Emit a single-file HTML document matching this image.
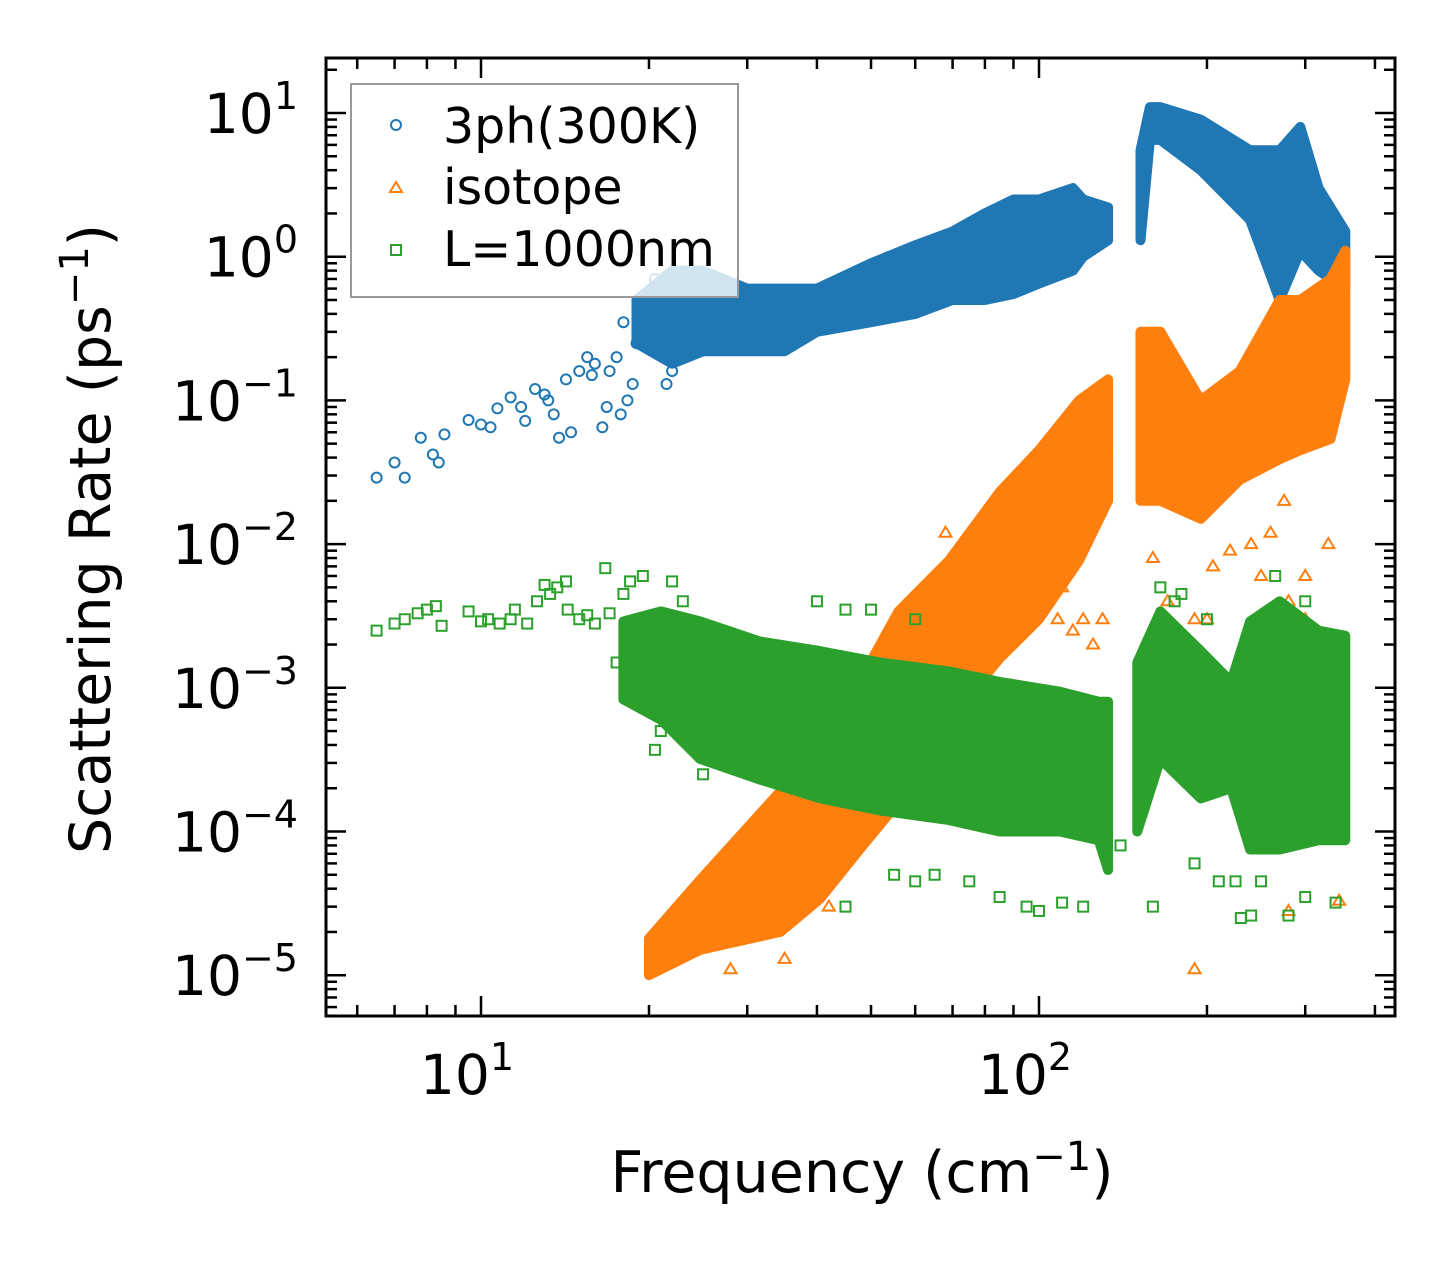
<!DOCTYPE html>
<html><head><meta charset="utf-8"><style>
html,body{margin:0;padding:0;background:#fff}
svg{display:block;font-family:"DejaVu Sans","Liberation Sans",sans-serif}
</style></head><body>
<svg id="chart" width="1455" height="1265" viewBox="0 0 1455 1265" xmlns="http://www.w3.org/2000/svg">
<rect width="1455" height="1265" fill="#fff"/>
<g id="marks"></g>
<g id="axes"></g>
<g id="legend">
<rect x="351" y="84" width="387" height="213" fill="#fff" fill-opacity="0.8" stroke="#999" stroke-width="2"/>
<circle cx="396" cy="125" r="5" fill="none" stroke="#1f77b4" stroke-width="2"/>
<text x="443" y="143" font-size="49">3ph(300K)</text>
<path d="M396,182 L402,192 L390,192 Z" fill="none" stroke="#ff7f0e" stroke-width="2"/>
<text x="443" y="204" font-size="49">isotope</text>
<rect x="391" y="245" width="10" height="10" fill="none" stroke="#2ca02c" stroke-width="2"/>
<text x="443" y="266" font-size="49">L=1000nm</text>
</g>
<text x="862" y="1192" font-size="57" text-anchor="middle">Frequency (cm<tspan dy="-22" font-size="40">−1</tspan><tspan dy="22">)</tspan></text>
<text transform="translate(110,539) rotate(-90)" font-size="57" text-anchor="middle">Scattering Rate (ps<tspan dy="-22" font-size="40">−1</tspan><tspan dy="22">)</tspan></text>
</svg>
<script>
// ---- data ----
const blueFreq=[6.5,7,7.3,7.8,8.2,8.4,8.6,9.5,10,10.4,10.7,11.3,11.8,12,12.5,13,13.2,13.5,13.8,14.2,14.5,15,15.5,15.8,16,16.5,16.8,17,17.5,17.8,18,18.3,18.7,19,19.5,20,20.5,21,21.5,22];
const blueRate=[0.029,0.037,0.029,0.055,0.042,0.037,0.058,0.073,0.068,0.065,0.088,0.105,0.09,0.072,0.12,0.11,0.1,0.08,0.055,0.14,0.06,0.16,0.2,0.15,0.18,0.065,0.09,0.16,0.2,0.08,0.35,0.1,0.13,0.25,0.45,0.3,0.7,0.6,0.13,0.16];
const blueBandA_f=[19,22,25,30,35,40,50,60,70,80,90,100,115,120,133];
const blueBandA_hi=[0.5,0.8,0.8,0.6,0.6,0.6,0.9,1.2,1.5,2.0,2.5,2.5,3.0,2.5,2.2];
const blueBandA_lo=[0.25,0.18,0.22,0.22,0.22,0.3,0.35,0.4,0.5,0.5,0.55,0.65,0.8,1.0,1.3];
const blueBandB_f=[152,158,165,195,239,270,294,317,354];
const blueBandB_hi=[5.5,11,11,9,5.5,5.5,8,3,1.5];
const blueBandB_lo=[1.3,6.5,6.5,4,1.8,0.5,1.1,0.8,0.6];

const orFreq=[68,88,95,105,108,110,115,120,125,130,160,170,180,190,200,205,220,240,250,260,275,280,300,300,320,330,190,280,345,42,35,28];
const orRate=[0.012,0.01,0.0055,0.005,0.003,0.005,0.0025,0.003,0.002,0.003,0.008,0.004,0.02,0.003,0.003,0.007,0.009,0.01,0.006,0.012,0.02,0.004,0.006,0.003,0.002,0.01,1.1e-5,2.8e-5,3.3e-5,3e-5,1.3e-5,1.1e-5];
const orBandA_f=[20,24.7,34.4,40.5,47.7,56,69,85,100,118,133];
const orBandA_hi=[1.8e-5,4.6e-5,1.9e-4,4.4e-4,1.1e-3,3.4e-3,7.7e-3,2.3e-2,4.5e-2,0.1,0.14];
const orBandA_lo=[1e-5,1.5e-5,2e-5,3.4e-5,7.5e-5,1.6e-4,6e-4,1.6e-3,3e-3,7.7e-3,2e-2];
const orBandB_f=[152,165,195,229,270,294,333,354];
const orBandB_hi=[0.3,0.3,0.1,0.16,0.5,0.5,0.7,1.1];
const orBandB_lo=[0.02,0.02,0.015,0.028,0.039,0.045,0.054,0.14];

const grFreq=[6.5,7,7.3,7.7,8,8.3,8.5,9.5,10,10.3,10.8,11.3,11.5,12.1,12.6,13,13.3,13.7,14.2,14.3,15,15.5,16,16.7,17,17.5,18,18.5,19,19.5,20,20.5,21,22,23,25,27,30,32,35,40,45,50,60,55,60,65,75,85,95,100,110,120,140,160,165,175,190,210,225,230,240,250,280,300,340,265,300,180,200,45];
const grRate=[0.0025,0.0028,0.003,0.0033,0.0035,0.0037,0.0027,0.0034,0.0029,0.003,0.0028,0.003,0.0035,0.0028,0.004,0.0052,0.0045,0.005,0.0055,0.0035,0.003,0.0032,0.0028,0.0068,0.0033,0.0015,0.0045,0.0055,0.0013,0.006,0.0008,0.00037,0.0005,0.0055,0.004,0.00025,0.00035,0.00028,0.00025,0.00025,0.004,0.0035,0.0035,0.003,5e-5,4.5e-5,5e-5,4.5e-5,3.5e-5,3e-5,2.8e-5,3.2e-5,3e-5,8e-5,3e-5,0.005,0.004,6e-5,4.5e-5,4.5e-5,2.5e-5,2.6e-5,4.5e-5,2.6e-5,3.5e-5,3.2e-5,0.006,0.004,0.0045,0.003,3e-5];
const grBandA_f=[18,21,24.7,31.6,40.5,51.9,69,85,109,128,133];
const grBandA_hi=[2.9e-3,3.4e-3,2.9e-3,2.1e-3,1.8e-3,1.5e-3,1.3e-3,1.1e-3,9.4e-4,8e-4,8e-4];
const grBandA_lo=[8.3e-4,6e-4,3.2e-4,2.3e-4,1.7e-4,1.4e-4,1.2e-4,1e-4,1e-4,8.7e-5,5.4e-5];
const grBandB_f=[150,165,195,221,239,270,317,354];
const grBandB_hi=[1.5e-3,3.4e-3,1.8e-3,1.1e-3,2.9e-3,4e-3,2.5e-3,2.3e-3];
const grBandB_lo=[1e-4,3.2e-4,1.7e-4,2e-4,7.5e-5,7.5e-5,8.7e-5,8.7e-5];

const xTickVals=[10,100];
const xTickLabels=["1","2"];
const yTickVals=[10,1,0.1,0.01,0.001,1e-4,1e-5];
const yTickLabels=["1","0","−1","−2","−3","−4","−5"];

// ---- axes ----
const L=326,R=1395,T=58,B=1016;
const X=f=>481+(Math.log10(f)-1)*558;
const Y=r=>113-(Math.log10(r)-1)*143.7;
const NS="http://www.w3.org/2000/svg";
const marks=document.getElementById('marks');
const axes=document.getElementById('axes');
function mk(tag,attrs,parent){const e=document.createElementNS(NS,tag);for(const k in attrs)e.setAttribute(k,attrs[k]);parent.appendChild(e);return e;}

const clip=mk('clipPath',{id:'pc'},marks);mk('rect',{x:L,y:T,width:R-L,height:B-T},clip);
const g=mk('g',{'clip-path':'url(#pc)'},marks);

function band(fs,hi,lo,color,name){
  let d='';
  fs.forEach((f,i)=>{d+=(i?'L':'M')+X(f).toFixed(1)+','+Y(hi[i]).toFixed(1);});
  for(let i=fs.length-1;i>=0;i--)d+='L'+X(fs[i]).toFixed(1)+','+Y(lo[i]).toFixed(1);
  d+='Z';
  const p=mk('path',{d:d,fill:color,stroke:color,'stroke-width':10,'stroke-linejoin':'round'},g);
  
  
}
function pts(fs,rs,kind,color,name){
  fs.forEach((f,i)=>{
    const x=X(f),y=Y(rs[i]);let e;
    if(kind==='c')e=mk('circle',{cx:x,cy:y,r:5,fill:'none',stroke:color,'stroke-width':2},g);
    else if(kind==='t')e=mk('path',{d:`M${x},${y-6}L${x+6},${y+4}L${x-6},${y+4}Z`,fill:'none',stroke:color,'stroke-width':2},g);
    else e=mk('rect',{x:x-5,y:y-5,width:10,height:10,fill:'none',stroke:color,'stroke-width':2},g);
    
    
  });
}
const cB='#1f77b4',cO='#ff7f0e',cG='#2ca02c';
band(blueBandA_f,blueBandA_hi,blueBandA_lo,cB,'3ph-cloud-low');
band(blueBandB_f,blueBandB_hi,blueBandB_lo,cB,'3ph-cloud-high');
pts(blueFreq,blueRate,'c',cB,'3ph-point');
band(orBandA_f,orBandA_hi,orBandA_lo,cO,'isotope-cloud-low');
band(orBandB_f,orBandB_hi,orBandB_lo,cO,'isotope-cloud-high');
pts(orFreq,orRate,'t',cO,'isotope-point');
band(grBandA_f,grBandA_hi,grBandA_lo,cG,'boundary-cloud-low');
band(grBandB_f,grBandB_hi,grBandB_lo,cG,'boundary-cloud-high');
pts(grFreq,grRate,'s',cG,'boundary-point');

// ticks
function line(x1,y1,x2,y2,w){mk('line',{x1,y1,x2,y2,stroke:'#000','stroke-width':w},axes);}
for(let dec=1;dec<=100;dec*=10){for(let m=1;m<=9;m++){const f=m*dec;if(f<5.3||f>434)continue;const x=X(f);const len=m===1?20:11;line(x,B,x,B-len,2.5);line(x,T,x,T+len,2.5);}}
for(let e=-6;e<=1;e++){for(let m=1;m<=9;m++){const r=m*Math.pow(10,e);const y=Y(r);if(y<T||y>B)continue;const len=m===1?20:11;line(L,y,L+len,y,2.5);line(R,y,R-len,y,2.5);}}
const fr=mk('rect',{x:L,y:T,width:R-L,height:B-T,fill:'none',stroke:'#000','stroke-width':3},axes);


xTickVals.forEach((v,i)=>{
  const t=mk('text',{x:X(v)-14,y:1094,'font-size':55,'text-anchor':'middle'},axes);
  t.textContent='10';
  const s=mk('tspan',{dy:-24,'font-size':38},t);s.textContent=xTickLabels[i];
  
  
});
yTickVals.forEach((v,i)=>{
  const t=mk('text',{x:298,y:Y(v)+20,'font-size':55,'text-anchor':'end'},axes);
  t.textContent='10';
  const s=mk('tspan',{dy:-24,'font-size':38},t);s.textContent=yTickLabels[i];
  
  
});
</script>
</body></html>
